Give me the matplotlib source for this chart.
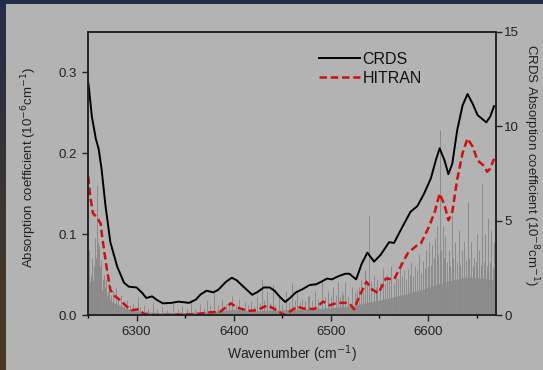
import numpy as np
import matplotlib
matplotlib.use("Agg")
import matplotlib.pyplot as plt

plt.rcParams['font.family'] = ['Liberation Sans', 'DejaVu Sans']

# CRDS spectrum (left axis units, 10^-6 cm^-1)
crds_wn = [6249, 6251, 6254, 6258, 6261, 6264, 6268, 6273, 6280, 6287, 6292, 6300,
           6306, 6310, 6316, 6321, 6327, 6336, 6343, 6354, 6361, 6366, 6372, 6379,
           6384, 6392, 6398, 6403, 6410, 6419, 6424, 6431, 6437, 6442, 6447, 6453,
           6458, 6464, 6471, 6478, 6485, 6490, 6496, 6501, 6508, 6515, 6519, 6526,
           6532, 6537.6, 6544.5, 6551, 6560, 6565, 6573.7, 6582, 6589, 6596, 6603,
           6608, 6612, 6617, 6621, 6625, 6630, 6635.6, 6640.7, 6646, 6651, 6657,
           6660, 6664, 6668]
crds_val = [0.298, 0.280, 0.245, 0.218, 0.205, 0.180, 0.135, 0.090, 0.060, 0.040, 0.035, 0.034,
            0.027, 0.021, 0.023, 0.0185, 0.0144, 0.015, 0.0165, 0.015, 0.019, 0.0255, 0.030, 0.028,
            0.031, 0.041, 0.046, 0.043, 0.035, 0.025, 0.028, 0.034, 0.034, 0.030, 0.023, 0.016,
            0.021, 0.028, 0.032, 0.037, 0.038, 0.041, 0.045, 0.044, 0.048, 0.051, 0.051, 0.044,
            0.064, 0.077, 0.066, 0.074, 0.090, 0.089, 0.109, 0.1275, 0.1345, 0.150, 0.169,
            0.191, 0.206, 0.191, 0.174, 0.187, 0.228, 0.259, 0.273, 0.261, 0.247, 0.241,
            0.238, 0.245, 0.258]

# HITRAN simulated spectrum
hit_wn = [6249, 6252, 6255, 6260, 6263, 6265, 6269, 6273, 6278, 6283, 6290, 6295,
          6301, 6308, 6315, 6330, 6350, 6362, 6372, 6386, 6397, 6404, 6415, 6424,
          6435, 6444, 6452, 6460, 6465, 6472, 6483, 6492, 6499, 6506, 6515, 6519,
          6524, 6529, 6536.6, 6543, 6549, 6556.6, 6565, 6570, 6579, 6587.5, 6592.7,
          6601, 6607, 6612, 6617, 6621, 6625, 6630, 6635.6, 6640.7, 6646, 6651,
          6657, 6661, 6664, 6668]
hit_val = [0.185, 0.150, 0.126, 0.119, 0.113, 0.093, 0.060, 0.031, 0.023, 0.0185, 0.0103, 0.006,
           0.007, 0.0012, 0.0, 0.0, 0.0005, 0.001, 0.003, 0.004, 0.0144, 0.009, 0.005, 0.006,
           0.012, 0.006, 0.0, 0.006, 0.0103, 0.008, 0.0074, 0.0165, 0.012, 0.015, 0.015, 0.0144,
           0.007, 0.0226, 0.041, 0.031, 0.027, 0.045, 0.044, 0.0556, 0.076, 0.085, 0.0885,
           0.109, 0.1275, 0.150, 0.136, 0.117, 0.1275, 0.167, 0.200, 0.218, 0.208, 0.191,
           0.185, 0.177, 0.181, 0.193]

# HITRAN line list (sticks)
stick_wn = [6251.4, 6253, 6254.6, 6256, 6257, 6258, 6259, 6260, 6261, 6262, 6263.4, 6265,
            6266, 6268, 6269, 6271, 6272, 6274, 6276, 6279, 6281, 6284, 6287, 6290,
            6293, 6296, 6301, 6304, 6308, 6312, 6317, 6321, 6326, 6331, 6338, 6343,
            6347, 6352, 6356, 6360, 6365, 6369, 6372, 6376, 6380, 6384, 6388, 6392,
            6395, 6398, 6402, 6405, 6409, 6412, 6415, 6418, 6421, 6424, 6427, 6429,
            6431, 6434, 6437, 6440, 6443, 6447, 6450, 6454, 6457, 6460, 6463, 6465,
            6468, 6470, 6473, 6476, 6478, 6481, 6484, 6487, 6491, 6494, 6497, 6500,
            6502, 6505, 6507, 6509, 6511, 6513, 6515, 6518, 6522, 6525, 6527, 6529,
            6531, 6533, 6535, 6537, 6539.5, 6541, 6544, 6546, 6548, 6551, 6554, 6556,
            6558, 6560, 6562, 6565, 6567, 6569, 6571, 6573, 6575, 6577, 6579, 6581,
            6583, 6585, 6587, 6589, 6591, 6593, 6595, 6597, 6598, 6600, 6601, 6603,
            6604, 6606, 6607, 6609, 6610, 6612, 6613, 6615, 6616, 6618, 6620, 6622,
            6623, 6625, 6626, 6628, 6630, 6632, 6633, 6635, 6637, 6639, 6641, 6642,
            6644, 6646, 6647, 6649, 6650, 6652, 6653, 6655, 6656, 6658, 6659, 6661,
            6662, 6664, 6665, 6667, 6668]
stick_val = [0.080, 0.050, 0.070, 0.060, 0.095, 0.070, 0.160, 0.090, 0.085, 0.060, 0.068, 0.045,
             0.050, 0.035, 0.045, 0.030, 0.040, 0.025, 0.030, 0.033, 0.020, 0.025, 0.015, 0.018,
             0.012, 0.015, 0.022, 0.010, 0.012, 0.008, 0.016, 0.007, 0.010, 0.006, 0.013, 0.008,
             0.011, 0.007, 0.019, 0.008, 0.014, 0.009, 0.018, 0.012, 0.027, 0.012, 0.020, 0.013,
             0.016, 0.023, 0.012, 0.020, 0.010, 0.016, 0.012, 0.017, 0.011, 0.022, 0.015, 0.045,
             0.018, 0.030, 0.015, 0.037, 0.012, 0.025, 0.014, 0.030, 0.016, 0.039, 0.018, 0.028,
             0.016, 0.020, 0.017, 0.024, 0.023, 0.018, 0.030, 0.020, 0.043, 0.022, 0.030, 0.024,
             0.035, 0.025, 0.041, 0.022, 0.030, 0.026, 0.041, 0.024, 0.035, 0.028, 0.031, 0.035,
             0.045, 0.030, 0.055, 0.040, 0.122, 0.042, 0.050, 0.035, 0.045, 0.040, 0.058, 0.038,
             0.050, 0.042, 0.060, 0.040, 0.052, 0.045, 0.065, 0.048, 0.055, 0.045, 0.057, 0.050,
             0.065, 0.048, 0.060, 0.055, 0.075, 0.052, 0.067, 0.058, 0.080, 0.060, 0.090, 0.062,
             0.087, 0.070, 0.095, 0.110, 0.075, 0.228, 0.080, 0.110, 0.070, 0.098, 0.065, 0.080,
             0.060, 0.124, 0.070, 0.090, 0.065, 0.105, 0.062, 0.080, 0.092, 0.068, 0.140, 0.070,
             0.090, 0.060, 0.071, 0.065, 0.100, 0.060, 0.080, 0.062, 0.163, 0.065, 0.100, 0.060,
             0.120, 0.065, 0.105, 0.058, 0.090]
# dense weak-line floor
env_wn = [6250, 6258, 6265, 6275, 6290, 6300, 6320, 6350, 6380, 6400, 6420, 6440,
          6460, 6480, 6500, 6520, 6540, 6560, 6580, 6600, 6620, 6640, 6660, 6670]
env_val = [0.040, 0.045, 0.030, 0.016, 0.008, 0.005, 0.003, 0.003, 0.005, 0.007, 0.005, 0.006,
           0.007, 0.008, 0.009, 0.011, 0.016, 0.021, 0.027, 0.034, 0.042, 0.047, 0.045, 0.042]

bg = "#b3b3b3"
ink = "#222222"
fig = plt.figure(figsize=(5.43, 3.70), dpi=100, facecolor=bg)

# slide border (top band and left gradient band)
top = fig.add_axes([0, 1 - 4 / 370, 1, 4 / 370])
top.add_patch(plt.Rectangle((0, 0), 1, 1, color="#232b48"))
top.axis("off")
left = fig.add_axes([0, 0, 6 / 543, 1])
grad = np.linspace(0, 1, 100).reshape(-1, 1)
cmap = matplotlib.colors.LinearSegmentedColormap.from_list("b", ["#4a3520", "#3a3535", "#232b48"])
left.imshow(grad, aspect="auto", cmap=cmap, origin="lower")
left.axis("off")

ax = fig.add_axes([88 / 543, 55 / 370, 408 / 543, 283.3 / 370])
ax.set_facecolor(bg)

ax.fill_between(env_wn, 0, env_val, color="#8e8e8e", lw=0)
ax.vlines(stick_wn, 0, stick_val, color="#8a8a8a", lw=0.7)
l1, = ax.plot(crds_wn, crds_val, color="black", lw=1.4, label="CRDS")
l2, = ax.plot(hit_wn, hit_val, color="#d01010", lw=1.8, ls=(0, (3, 1.5)), label="HITRAN")

ax.set_xlim(6250, 6670)
ax.set_ylim(0, 0.35)
ax.set_xticks([6300, 6400, 6500, 6600])
ax.set_xticks(np.arange(6250, 6671, 50), minor=True)
ax.set_yticks([0.0, 0.1, 0.2, 0.3])
ax.set_yticklabels(["0.0", "0.1", "0.2", "0.3"])
ax.tick_params(direction="out", labelsize=9.5, colors=ink, length=4, width=1, pad=4)
ax.tick_params(which="minor", direction="out", length=2.5, width=1)
for s in ax.spines.values():
    s.set_linewidth(1.1)
    s.set_color(ink)
ax.set_xlabel("Wavenumber (cm$^{-1}$)", fontsize=10, color=ink, labelpad=4)
fig.text(29 / 543, 1 - 167 / 370, "Absorption coefficient (10$^{-6}$cm$^{-1}$)", fontsize=9.5,
         color=ink, rotation=90, ha="center", va="center")

ax2 = ax.twinx()
ax2.set_ylim(0, 15)
ax2.set_yticks([0, 5, 10, 15])
ax2.tick_params(direction="out", labelsize=9.5, colors=ink, length=4, width=1, pad=2)
for s in ax2.spines.values():
    s.set_linewidth(1.1)
    s.set_color(ink)
fig.text(531 / 543, 1 - 165 / 370, "CRDS Absorption coefficient (10$^{-8}$cm$^{-1}$)", fontsize=9.5,
         color=ink, rotation=-90, ha="center", va="center")

leg = ax.legend(handles=[l1, l2], loc="upper left", bbox_to_anchor=(0.565, 0.93),
                frameon=False, fontsize=11.5, handlelength=2.6, handletextpad=0.15,
                borderpad=0, borderaxespad=0, labelspacing=0.28)
for t in leg.get_texts():
    t.set_color("#111111")

fig.savefig("out.png", dpi=100, facecolor=bg)
